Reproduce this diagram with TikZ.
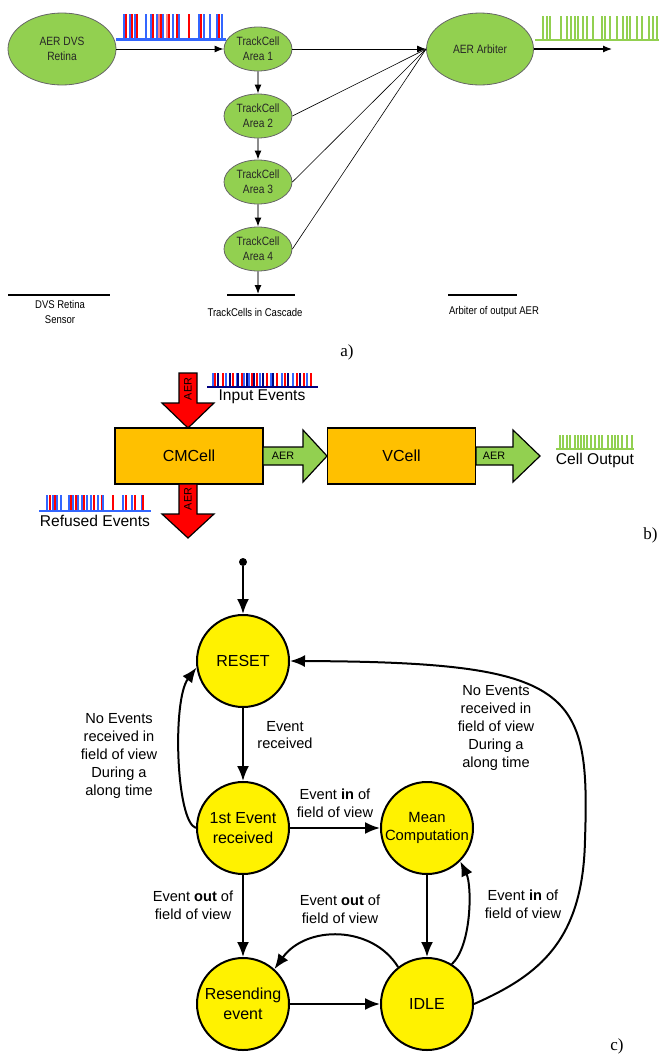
\documentclass[tikz,border=0pt]{standalone}
\usepackage{fontspec}
\setmainfont{Liberation Sans}
\newfontfamily\capfont{Liberation Serif}
\newfontfamily\narrowfont[FakeStretch=0.85]{Liberation Sans}
\usetikzlibrary{shapes.geometric,arrows.meta}

\definecolor{cellgreen}{RGB}{146,208,80}
\definecolor{boxorange}{RGB}{255,192,0}
\definecolor{spikeblue}{RGB}{51,102,255}
\definecolor{spikenavy}{RGB}{0,0,128}
\definecolor{spikepink}{RGB}{255,130,130}

\tikzset{
  cell/.style={ellipse, draw=black!60, fill=cellgreen, inner sep=0pt, align=center,
    text=black!85, font=\narrowfont\fontsize{6}{7.5}\selectfont},
  smalltip/.style={-{Latex[length=4.5pt,width=3.5pt,color=black]}},
  foot/.style={align=center, font=\narrowfont\fontsize{5.6}{7.5}\selectfont},
  blockbox/.style={draw, line width=0.9pt, fill=boxorange, minimum width=74pt,
    minimum height=28pt, inner sep=0pt, font=\fontsize{8}{10}\selectfont},
  blockarrow/.style={draw, line width=0.6pt},
  aertext/.style={font=\fontsize{5.4}{6}\selectfont, inner sep=0pt},
  evtext/.style={font=\fontsize{7.8}{9}\selectfont, inner sep=0pt},
  fsmstate/.style={circle, draw, line width=1pt, fill=yellow, minimum size=46pt,
    inner sep=0pt, align=center, font=\fontsize{8}{10}\selectfont},
  fsmedge/.style={line width=1pt, -{Latex[length=7.5pt,width=6pt]}},
  lbl/.style={align=center, font=\fontsize{7.3}{8.9}\selectfont},
  partlbl/.style={font=\capfont\fontsize{8.5}{10}\selectfont}
}

\begin{document}
\begin{tikzpicture}[x=0.5pt,y=-0.5pt]
    \useasboundingbox (0,0) rectangle (659,1055);

    % ---------------- a) ----------------
    \node[cell, minimum width=54pt, minimum height=36pt] (retina) at (62,49) {AER DVS\\Retina};
    \node[cell, minimum width=34pt, minimum height=22pt] (a1) at (258,49) {TrackCell\\Area 1};
    \node[cell, minimum width=34pt, minimum height=22pt] (a2) at (258,116) {TrackCell\\Area 2};
    \node[cell, minimum width=34pt, minimum height=22pt] (a3) at (258,182) {TrackCell\\Area 3};
    \node[cell, minimum width=34pt, minimum height=22pt] (a4) at (258,249) {TrackCell\\Area 4};
    \node[cell, minimum width=53.5pt, minimum height=36pt] (arb) at (480,49) {AER Arbiter};

    \coordinate (cascade) at (258,294);
    \coordinate (aerout) at (612,49);

    % conexoes
    \draw[line width=0.5pt, smalltip] (retina) -- (a1);
    \draw[black!45, line width=0.6pt, smalltip] (a1) -- (a2);
    \draw[black!45, line width=0.6pt, smalltip] (a2) -- (a3);
    \draw[black!45, line width=0.6pt, smalltip] (a3) -- (a4);
    \draw[black!45, line width=0.6pt, smalltip] (a4) -- (cascade);
    \draw[line width=0.4pt, smalltip] (a1) -- (arb.west);
    \draw[line width=0.3pt] (a2.east) -- (arb.west);
    \draw[line width=0.3pt] (a3.east) -- (arb.west);
    \draw[line width=0.3pt] (a4.east) -- (arb.west);
    \draw[line width=0.6pt, smalltip] (arb) -- (aerout);

    % trem de eventos de entrada
    \draw[spikeblue, line width=1.5pt] (116,39) -- (226,39);
    \foreach \x/\c in {124/spikeblue,126/red,130/spikeblue,132/red,135/spikeblue,137/red,
        146/spikeblue,151/spikeblue,153/red,157/spikeblue,159/spikepink,161/red,163/spikeblue,
        167/spikepink,169/red,173/spikeblue,177/red,179/spikeblue,189/red,199/spikeblue,
        201/red,204/spikeblue,210/spikeblue,217/spikeblue,219/red,222/spikeblue}
        \draw[\c, line width=0.7pt] (\x,38) -- (\x,14);

    % trem de eventos de saida
    \draw[cellgreen, line width=1pt] (535,40) -- (659,40);
    \foreach \x in {543,547,550,561,567,571,575,578,583,587,593,602,605,610,617,623,627,630,637,642,649,653,657}
        \draw[cellgreen, line width=1pt] (\x,40) -- (\x,16);

    % legendas
    \draw[line width=0.8pt] (8,295) -- (110,295);
    \draw[line width=0.8pt] (227,295) -- (295,295);
    \draw[line width=0.8pt] (448,295) -- (517,295);
    \node[foot] (legretina) at (60,312) {DVS Retina\\Sensor};
    \node[foot] (legcascade) at (255,312) {TrackCells in Cascade};
    \node[foot] (legarb) at (494,312) {Arbiter of output AER};
    \node[partlbl] (parta) at (347,352) {a)};

    % ---------------- b) ----------------
    \node[blockbox] (cm) at (189,456) {CMCell};
    \node[blockbox] (vc) at (401.5,456) {VCell};

    % setas AER
    \filldraw[blockarrow, fill=red] (179,373) -- (197,373) -- (197,403) -- (214,403) -- (188,428)
        -- (162,403) -- (179,403) -- cycle;
    \filldraw[blockarrow, fill=red] (179,484) -- (197,484) -- (197,514) -- (214,514) -- (188,538)
        -- (162,514) -- (179,514) -- cycle;
    \filldraw[blockarrow, fill=cellgreen] (263,447) -- (303,447) -- (303,430) -- (327,456)
        -- (303,482) -- (303,465) -- (263,465) -- cycle;
    \filldraw[blockarrow, fill=cellgreen] (476,447) -- (513,447) -- (513,430) -- (540,456)
        -- (513,482) -- (513,465) -- (476,465) -- cycle;
    \node[aertext, rotate=90] (aerin) at (188,389) {AER};
    \node[aertext, rotate=90] (aerrej) at (188,499) {AER};
    \node[aertext] (aercm) at (283,456) {AER};
    \node[aertext] (aervc) at (494,456) {AER};

    % eventos
    \draw[spikenavy, line width=1pt] (207,387) -- (318,387);
    \foreach \x/\c in {213/spikeblue,215/red,218/spikenavy,223/red,226/spikeblue,230/spikenavy,
        233/red,237/spikeblue,238/spikenavy,242/red,244/spikeblue,247/spikenavy,249/spikeblue,
        252/red,254/spikenavy,257/red,260/spikeblue,263/spikenavy,267/red,271/spikeblue,
        273/spikenavy,277/red,282/spikeblue,285/red,288/spikenavy,293/spikeblue,297/red,
        300/spikenavy,304/red,307/spikeblue,311/red}
        \draw[\c, line width=0.7pt] (\x,386) -- (\x,373);
    \node[evtext] (inev) at (262,397) {Input Events};

    \draw[spikeblue, line width=1pt] (39,511) -- (151,511);
    \foreach \x/\c in {47/spikeblue,50/red,53/spikeblue,55/red,57/spikeblue,61/spikeblue,
        69/spikeblue,71/red,73/spikeblue,76/red,78/spikeblue,82/spikeblue,84/red,87/spikeblue,
        91/spikeblue,94/red,98/spikeblue,102/red,103/spikeblue,113/red,123/spikeblue,126/red,
        132/spikeblue,135/red,142/spikeblue,143/red}
        \draw[\c, line width=0.7pt] (\x,510) -- (\x,495);
    \node[evtext] (refev) at (95,521) {Refused Events};

    \draw[cellgreen, line width=1pt] (556,449) -- (634,449);
    \foreach \x in {560,563,567,570,575,578,581,584,587,591,595,599,602,608,612,615,618,622,627,632}
        \draw[cellgreen, line width=0.9pt] (\x,449) -- (\x,435);
    \node[evtext] (cellout) at (595,460) {Cell Output};
    \node[partlbl, anchor=east, inner sep=0.5pt] (partb) at (659,535) {b)};

    % ---------------- c) ----------------
    \node[circle, fill, inner sep=0pt, minimum size=4pt] (start) at (243,562) {};
    \node[fsmstate] (reset) at (243,661) {RESET};
    \node[fsmstate] (first) at (243,828) {1st Event\\received};
    \node[fsmstate, font=\fontsize{7.4}{9}\selectfont] (mean) at (427,828) {Mean\\Computation};
    \node[fsmstate] (resend) at (243,1004) {Resending\\event};
    \node[fsmstate] (idle) at (427,1004) {IDLE};

    % transicoes
    \draw[fsmedge] (start) -- (reset);
    \draw[fsmedge] (reset) -- (first);
    \draw[fsmedge] (first) -- (mean);
    \draw[fsmedge] (first) -- (resend);
    \draw[fsmedge] (mean) -- (idle);
    \draw[fsmedge] (resend) -- (idle);
    \draw[fsmedge] (idle.128) .. controls (372,925) and (306,925) .. (resend.48);
    \draw[fsmedge] (idle.58) .. controls (472,945) and (472,885) .. (mean.-45);
    \draw[fsmedge] (first.west) .. controls (176,822) and (172,700) .. (reset.188);
    \draw[fsmedge] (idle.east) .. controls (540,975) and (583,940) .. (585,840)
        .. controls (590,690) and (575,662) .. (reset.east);

    % rotulos
    \node[lbl] (lreceived) at (285,735) {Event\\received};
    \node[lbl] (lfirstin) at (335,803) {Event \textbf{in} of\\field of view};
    \node[lbl] (lfirstout) at (193,905) {Event \textbf{out} of\\field of view};
    \node[lbl] (lidleout) at (340,909) {Event \textbf{out} of\\field of view};
    \node[lbl] (lidlein) at (523,904) {Event \textbf{in} of\\field of view};
    \node[lbl] (lnoleft) at (119,756) {No Events\\received in\\field of view\\During a\\along time};
    \node[lbl] (lnoright) at (496,728) {No Events\\received in\\field of view\\During a\\along time};
    \node[partlbl] (partc) at (617,1046) {c)};
\end{tikzpicture}
\end{document}
